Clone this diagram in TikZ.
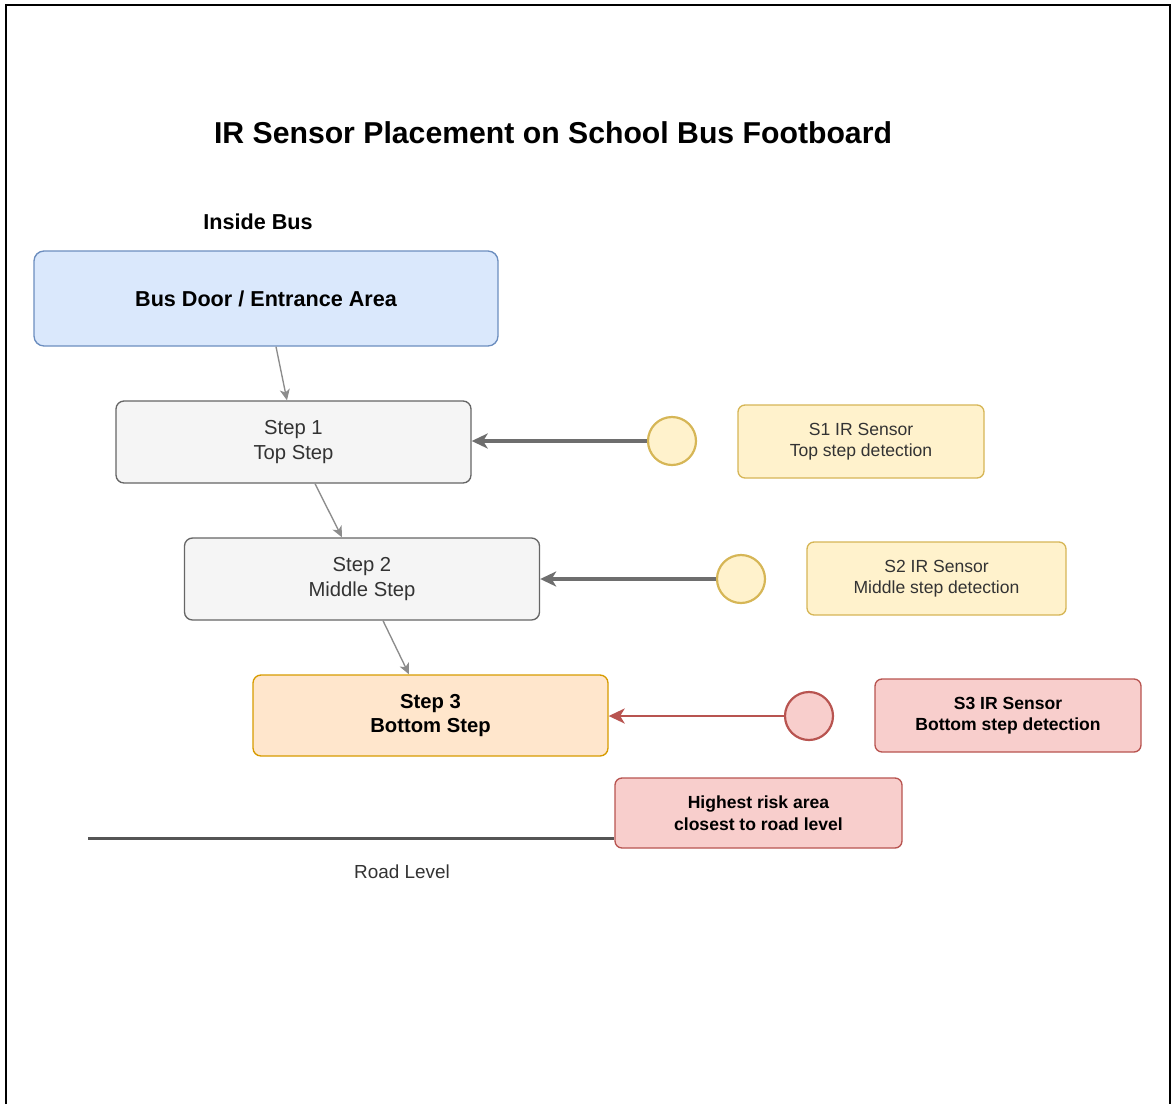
\documentclass[tikz,border=0pt]{standalone}
\usepackage{fontspec}
\setmainfont{Liberation Sans}
\usetikzlibrary{arrows.meta}

\definecolor{doorfill}{HTML}{DAE8FC}
\definecolor{doorline}{HTML}{6C8EBF}
\definecolor{stepfill}{HTML}{F5F5F5}
\definecolor{stepline}{HTML}{666666}
\definecolor{lowfill}{HTML}{FFE6CC}
\definecolor{lowline}{HTML}{D79B00}
\definecolor{sensfill}{HTML}{FFF2CC}
\definecolor{sensline}{HTML}{D6B656}
\definecolor{riskfill}{HTML}{F8CECC}
\definecolor{riskline}{HTML}{B85450}
\definecolor{textgray}{HTML}{333333}
\definecolor{linkgray}{HTML}{8C8C8C}
\definecolor{beamgray}{HTML}{6E6E6E}
\definecolor{roadgray}{HTML}{555555}

\tikzset{
  titletext/.style={font=\fontsize{30.2}{36}\selectfont\bfseries},
  headtext/.style={font=\fontsize{21.6}{26}\selectfont\bfseries},
  panel/.style={draw, rounded corners=8pt, align=center, inner sep=0pt, line width=1.35pt},
  doorbox/.style={panel, rounded corners=10pt, fill=doorfill, draw=doorline,
    minimum width=464pt, minimum height=95pt, font=\fontsize{21.6}{26}\selectfont\bfseries},
  stepbox/.style={panel, fill=stepfill, draw=stepline, text=textgray,
    minimum width=355pt, minimum height=82pt, font=\fontsize{20.25}{24.5}\selectfont},
  lowbox/.style={panel, fill=lowfill, draw=lowline,
    minimum width=355pt, minimum height=81pt, font=\fontsize{20.25}{24.5}\selectfont\bfseries},
  sensorbox/.style={panel, rounded corners=7pt, fill=sensfill, draw=sensline, text=textgray,
    minimum height=73pt, font=\fontsize{17.55}{21.5}\selectfont},
  alertbox/.style={panel, rounded corners=7pt, fill=riskfill, draw=riskline,
    minimum height=73pt, font=\fontsize{17.55}{21.5}\selectfont\bfseries},
  sensordot/.style={circle, draw=sensline, fill=sensfill, line width=2.2pt,
    minimum size=48pt, inner sep=0pt},
  alertdot/.style={circle, draw=riskline, fill=riskfill, line width=2.2pt,
    minimum size=48pt, inner sep=0pt},
  link/.style={draw=linkgray, line width=1.35pt,
    -{Stealth[length=11pt, width=10pt, inset=3pt]}},
  beam/.style={draw=beamgray, line width=3.2pt,
    -{Stealth[length=16pt, width=15pt, inset=4.5pt]}},
  alertbeam/.style={draw=riskline, line width=2.4pt,
    -{Stealth[length=16pt, width=15pt, inset=4.5pt]}},
}

\begin{document}
\begin{tikzpicture}[x=1pt, y=-1pt]
\useasboundingbox (0,0) rectangle (1173,1104);

% outer frame, open at the bottom
\draw[line width=2pt] (6,1104) -- (6,5) -- (1170,5) -- (1170,1104);

% headings
\node[titletext] (title) at (553,133) {IR Sensor Placement on School Bus Footboard};
\node[headtext] (inside) at (258,222) {Inside Bus};

% door and the three steps
\node[doorbox] (door) at (266,298.5) {Bus Door / Entrance Area};
\node[stepbox] (step1) at (293.5,442) {Step 1\\Top Step};
\node[stepbox] (step2) at (362,579) {Step 2\\Middle Step};
\node[lowbox] (step3) at (430.5,715.5) {Step 3\\Bottom Step};

% sensors
\node[sensordot] (c1) at (672,441) {};
\node[sensordot] (c2) at (741,579) {};
\node[alertdot] (c3) at (809,716) {};

\node[sensorbox, minimum width=246pt] (s1) at (861,441.5) {S1 IR Sensor\\Top step detection};
\node[sensorbox, minimum width=259pt] (s2) at (936.5,578.5) {S2 IR Sensor\\Middle step detection};
\node[alertbox, minimum width=266pt] (s3) at (1008,715.5) {S3 IR Sensor\\Bottom step detection};

\node[alertbox, minimum width=287pt, minimum height=70pt] (risk) at (758.5,813)
  {Highest risk area\\closest to road level};

% road level
\coordinate (roadL) at (88,838);
\draw[draw=roadgray, line width=3pt] (roadL) -- (roadL -| risk.west);
\node[font=\fontsize{18.9}{23}\selectfont, text=textgray] (roadtext) at (402,872) {Road Level};

% step sequence
\draw[link] ([xshift=10pt]door.south) -- ([xshift=-6.5pt]step1.north);
\draw[link] ([xshift=21.5pt]step1.south) -- ([xshift=-20pt]step2.north);
\draw[link] ([xshift=21pt]step2.south) -- ([xshift=-21.5pt]step3.north);

% sensor beams
\draw[beam] (c1) -- (c1 -| step1.east);
\draw[beam] (c2) -- (c2 -| step2.east);
\draw[alertbeam] (c3) -- (c3 -| step3.east);
\end{tikzpicture}
\end{document}
